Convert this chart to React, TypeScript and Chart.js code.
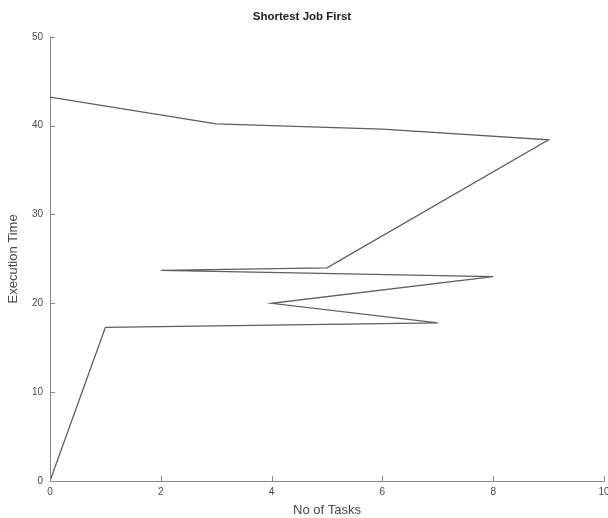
import React, { useEffect, useRef } from "react";
import { Chart, registerables } from "chart.js";

Chart.register(...registerables);

const tasks = [0, 1, 7, 4, 8, 2, 5, 9, 6, 3, 0];
const execTimes = [0, 17.3, 17.8, 20.0, 23.0, 23.7, 24.0, 38.4, 39.6, 40.2, 43.2];
const xTicks = [0, 2, 4, 6, 8, 10];
const yTicks = [0, 10, 20, 30, 40, 50];

const FONT = "'Liberation Sans', Arial, Helvetica, sans-serif";
const AXIS = "#8a8a8a";
const TEXT = "#4a4a4a";

const innerTicks = {
  id: "innerTicks",
  afterDraw(chart: any) {
    const { ctx, chartArea, scales } = chart;
    ctx.save();
    ctx.strokeStyle = AXIS;
    ctx.lineWidth = 1;
    const len = 5;
    xTicks.forEach((v) => {
      const px = Math.round(scales.x.getPixelForValue(v)) + 0.5;
      ctx.beginPath();
      ctx.moveTo(px, chartArea.bottom);
      ctx.lineTo(px, chartArea.bottom - len);
      ctx.stroke();
    });
    yTicks.forEach((v) => {
      const py = Math.round(scales.y.getPixelForValue(v)) + 0.5;
      ctx.beginPath();
      ctx.moveTo(chartArea.left, py);
      ctx.lineTo(chartArea.left + len, py);
      ctx.stroke();
    });
    ctx.restore();
  },
};

export default function App() {
  const ref = useRef<HTMLCanvasElement | null>(null);
  useEffect(() => {
    if (!ref.current) return;
    const chart = new Chart(ref.current, {
      type: "scatter",
      data: {
        datasets: [
          {
            data: tasks.map((t, i) => ({ x: t, y: execTimes[i] })),
            showLine: true,
            borderColor: "#5e5e5e",
            borderWidth: 1.3,
            pointRadius: 0,
            tension: 0,
            fill: false,
          },
        ],
      },
      options: {
        animation: false,
        responsive: false,
        maintainAspectRatio: false,
        layout: { padding: { left: 0, right: 4, top: 0, bottom: 0 } },
        plugins: {
          legend: { display: false },
          tooltip: { enabled: false },
          title: {
            display: true,
            text: "Shortest Job First",
            color: "#222",
            font: { family: FONT, size: 11.5, weight: "bold" },
            padding: { top: 10, bottom: 13 },
          },
        },
        scales: {
          x: {
            type: "linear",
            min: 0,
            max: 10,
            afterBuildTicks: (s: any) => {
              s.ticks = xTicks.map((v) => ({ value: v }));
            },
            afterFit: (s: any) => {
              s.height = 37;
              s.paddingLeft = 0;
              s.paddingRight = 0;
            },
            ticks: {
              color: TEXT,
              font: { family: FONT, size: 10 },
              padding: 5,
              maxRotation: 0,
            },
            grid: { display: true, drawOnChartArea: false, drawTicks: false },
            border: { display: true, color: AXIS, width: 1 },
            title: {
              display: true,
              text: "No of Tasks",
              color: TEXT,
              font: { family: FONT, size: 13 },
              padding: { top: 0, bottom: 0 },
            },
          },
          y: {
            type: "linear",
            min: 0,
            max: 50,
            afterBuildTicks: (s: any) => {
              s.ticks = yTicks.map((v) => ({ value: v }));
            },
            afterFit: (s: any) => {
              s.width = 50;
            },
            ticks: {
              color: TEXT,
              font: { family: FONT, size: 10 },
              padding: 7,
            },
            grid: { display: true, drawOnChartArea: false, drawTicks: false },
            border: { display: true, color: AXIS, width: 1 },
            title: {
              display: true,
              text: "Execution Time",
              color: TEXT,
              font: { family: FONT, size: 13 },
              padding: { top: 6, bottom: 0 },
            },
          },
        },
      },
      plugins: [innerTicks],
    } as any);
    return () => chart.destroy();
  }, []);
  return (
    <div style={{ position: "fixed", left: 0, top: 0, width: 608, height: 518, background: "#fff" }}>
      <canvas ref={ref} width={608} height={518} style={{ width: 608, height: 518 }} />
    </div>
  );
}
